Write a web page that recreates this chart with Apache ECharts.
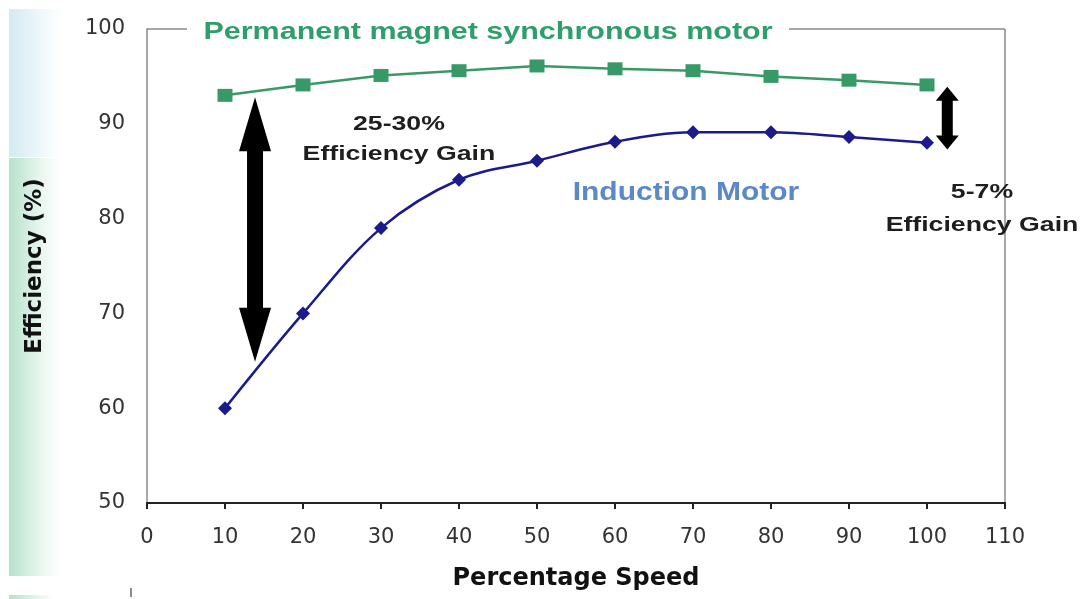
<!DOCTYPE html>
<html>
<head>
<meta charset="utf-8">
<script src="https://cdn.jsdelivr.net/npm/echarts@6/dist/echarts.min.js"></script>
<style>
  html, body { margin: 0; padding: 0; background: #ffffff; }
  #chart { width: 1081px; height: 599px; }
</style>
</head>
<body>
<div id="chart"></div>
<script>
// Motor efficiency versus percentage of rated speed
const speeds = [10, 20, 30, 40, 50, 60, 70, 80, 90, 100];
const pmsmEfficiency = [93.0, 94.1, 95.1, 95.6, 96.1, 95.8, 95.6, 95.0, 94.6, 94.1];
const inductionEfficiency = [60.0, 70.0, 79.0, 84.1, 86.1, 88.1, 89.1, 89.1, 88.6, 88.0];

const xRange = [0, 110, 10];
const yRange = [50, 100, 10];

const pmsmTitle = 'Permanent magnet synchronous motor';
const inductionTitle = 'Induction Motor';
const lowSpeedGain = ['25-30%', 'Efficiency Gain'];
const fullSpeedGain = ['5-7%', 'Efficiency Gain'];

const FONT = '"Liberation Sans", Arial, sans-serif';
const WIDE = '"DejaVu Sans", Verdana, sans-serif';
const GREEN = '#379a66';
const NAVY = '#1b1b8c';

const chart = echarts.init(document.getElementById('chart'), null, { renderer: 'canvas' });

const pairs = (ys) => speeds.map((s, i) => [s, ys[i]]);

chart.setOption({
  animation: false,
  backgroundColor: '#ffffff',
  grid: { left: 147, right: 76, top: 29, bottom: 96 },
  xAxis: {
    type: 'value', min: xRange[0], max: xRange[1], interval: xRange[2],
    name: 'Percentage Speed', nameLocation: 'middle', nameGap: 64,
    nameTextStyle: { fontFamily: WIDE, fontSize: 24, fontWeight: 'bold', color: '#111' },
    axisLine: { lineStyle: { color: '#222', width: 2 } },
    axisTick: { show: true, inside: false, length: 6, lineStyle: { color: '#222', width: 2 } },
    axisLabel: { fontFamily: WIDE, fontSize: 21, color: '#333', margin: 24 },
    splitLine: { show: false }
  },
  yAxis: {
    type: 'value', min: yRange[0], max: yRange[1], interval: yRange[2],
    name: 'Efficiency (%)', nameLocation: 'middle', nameGap: 100, nameRotate: 90,
    nameTextStyle: { fontFamily: WIDE, fontSize: 23, fontWeight: 'bold', color: '#111' },
    axisLine: { show: true, lineStyle: { color: '#8a8a8a', width: 1.5 } },
    axisTick: { show: false },
    axisLabel: { fontFamily: WIDE, fontSize: 21, color: '#333', margin: 22 },
    splitLine: { show: false }
  },
  series: [
    {
      name: pmsmTitle, type: 'line', data: pairs(pmsmEfficiency),
      symbol: 'rect', symbolSize: [15, 13],
      lineStyle: { color: GREEN, width: 2.5 },
      itemStyle: { color: GREEN },
      z: 3
    },
    {
      name: inductionTitle, type: 'line', data: pairs(inductionEfficiency),
      smooth: 0.35,
      symbol: 'diamond', symbolSize: [14, 14],
      lineStyle: { color: NAVY, width: 2.5 },
      itemStyle: { color: NAVY },
      z: 3
    }
  ]
});

// Frame, captions and gain arrows are placed from data coordinates
const px = (x, y) => chart.convertToPixel({ gridIndex: 0 }, [x, y]);

function doubleArrow(cx, yTop, yBot, shaftW, headW, headL) {
  return [
    [cx, yTop], [cx + headW / 2, yTop + headL], [cx + shaftW / 2, yTop + headL],
    [cx + shaftW / 2, yBot - headL], [cx + headW / 2, yBot - headL], [cx, yBot],
    [cx - headW / 2, yBot - headL], [cx - shaftW / 2, yBot - headL],
    [cx - shaftW / 2, yTop + headL], [cx - headW / 2, yTop + headL]
  ];
}

const [x0, yTopPx] = px(xRange[0], yRange[1]);
const [x1, yBotPx] = px(xRange[1], yRange[0]);

const bigTop = px(13.85, 92.8), bigBot = px(13.85, 64.9);
const smallTop = px(102.6, 93.9), smallBot = px(102.6, 87.3);

// bold caption, widened horizontally about its centre
const caption = (pos, text, size, fill, stretch, lineHeight) => ({
  type: 'text', x: pos[0], y: pos[1], scaleX: stretch,
  style: {
    text: text, fontFamily: FONT, fontSize: size, fontWeight: 'bold', fill: fill,
    align: 'center', verticalAlign: 'middle', lineHeight: lineHeight || size * 1.2
  }, z: 10
});

chart.setOption({
  graphic: [
    // side panel shading
    {
      type: 'rect', shape: { x: 9, y: 9, width: 52, height: 148 },
      style: { fill: new echarts.graphic.LinearGradient(0, 0, 1, 0, [
        { offset: 0, color: '#d3eaf2' }, { offset: 0.6, color: '#eef7fa' }, { offset: 1, color: '#ffffff' }]) },
      z: 0
    },
    {
      type: 'rect', shape: { x: 9, y: 158, width: 52, height: 418 },
      style: { fill: new echarts.graphic.LinearGradient(0, 0, 1, 0, [
        { offset: 0, color: '#b6e2cb' }, { offset: 0.6, color: '#e8f6ee' }, { offset: 1, color: '#ffffff' }]) },
      z: 0
    },
    {
      type: 'rect', shape: { x: 9, y: 595, width: 45, height: 4 },
      style: { fill: new echarts.graphic.LinearGradient(0, 0, 1, 0, [
        { offset: 0, color: '#b6e2cb' }, { offset: 1, color: '#ffffff' }]) },
      z: 0
    },
    { type: 'line', shape: { x1: 131, y1: 588, x2: 131, y2: 597 }, style: { stroke: '#666', lineWidth: 1.5 } },
    // frame: top (broken around the caption) and right side
    { type: 'line', shape: { x1: x0, y1: yTopPx, x2: 187, y2: yTopPx }, style: { stroke: '#8a8a8a', lineWidth: 1.5 } },
    { type: 'line', shape: { x1: 789, y1: yTopPx, x2: x1, y2: yTopPx }, style: { stroke: '#8a8a8a', lineWidth: 1.5 } },
    { type: 'line', shape: { x1: x1, y1: yTopPx, x2: x1, y2: yBotPx }, style: { stroke: '#8a8a8a', lineWidth: 1.5 } },
    // series captions
    caption([488, yTopPx + 3], pmsmTitle, 24, '#2e9e6b', 1.27),
    caption([px(69.1, 85)[0], px(69.1, 82.7)[1]], inductionTitle, 25, '#5b88c6', 1.2),
    // gain arrows and their notes
    { type: 'polygon', shape: { points: doubleArrow(bigTop[0], bigTop[1], bigBot[1], 16, 32, 54) }, style: { fill: '#000' }, z: 5 },
    { type: 'polygon', shape: { points: doubleArrow(smallTop[0], smallTop[1], smallBot[1], 11, 23, 14) }, style: { fill: '#000' }, z: 5 },
    caption([px(32.3, 88.5)[0], px(32.3, 88.5)[1] + 1], lowSpeedGain.join('\n'), 21, '#1e1e1e', 1.27, 30),
    caption([982, 209], fullSpeedGain.join('\n'), 21, '#1e1e1e', 1.27, 33)
  ]
});
</script>
</body>
</html>
